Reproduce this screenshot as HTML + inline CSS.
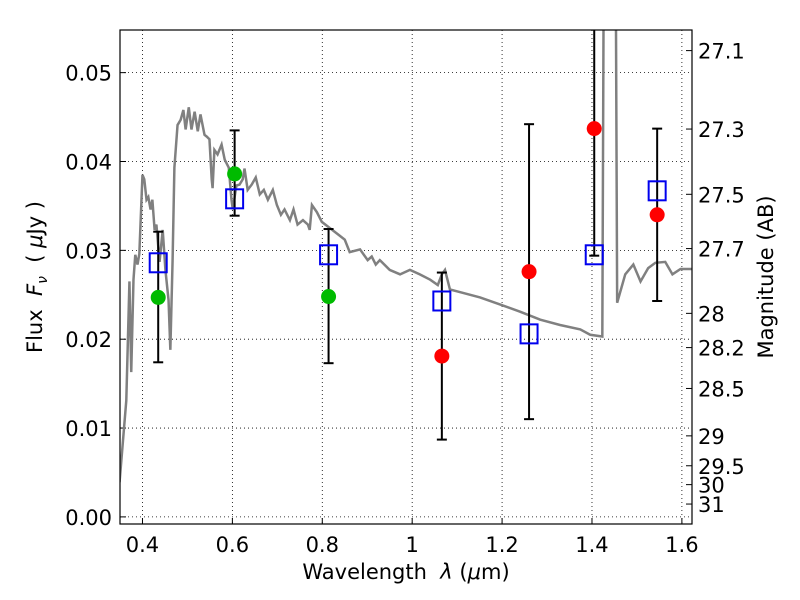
<!DOCTYPE html>
<html><head><meta charset="utf-8"><style>body{margin:0;background:#fff}svg{display:block;font-family:"DejaVu Sans","Liberation Sans",sans-serif}</style></head>
<body>
<svg id="c" width="800" height="600" xmlns="http://www.w3.org/2000/svg"></svg>
<script>
const specLam=[0.349,0.364,0.371,0.375,0.380,0.384,0.389,0.393,0.400,0.404,0.409,0.413,0.418,0.422,0.427,0.431,0.438,0.445,0.451,0.458,0.462,0.467,0.471,0.478,0.485,0.491,0.496,0.503,0.509,0.516,0.523,0.529,0.538,0.543,0.549,0.554,0.556,0.560,0.567,0.576,0.583,0.592,0.598,0.601,0.605,0.609,0.616,0.623,0.627,0.634,0.643,0.652,0.661,0.670,0.679,0.690,0.699,0.708,0.716,0.728,0.736,0.745,0.757,0.768,0.772,0.777,0.788,0.799,0.817,0.835,0.850,0.861,0.884,0.901,0.910,0.919,0.928,0.950,0.973,0.995,1.017,1.040,1.057,1.066,1.073,1.084,1.106,1.151,1.196,1.240,1.285,1.329,1.374,1.396,1.423,1.426,1.453,1.456,1.474,1.492,1.508,1.525,1.541,1.563,1.579,1.597,1.623];
const specFlux=[0.0039,0.0131,0.0265,0.0163,0.0267,0.0295,0.0284,0.0296,0.0385,0.0380,0.0357,0.0360,0.0346,0.0357,0.0323,0.0329,0.0287,0.0323,0.0278,0.0244,0.0188,0.0289,0.0393,0.0441,0.0447,0.0458,0.0436,0.0461,0.0436,0.0456,0.0434,0.0453,0.0430,0.0428,0.0425,0.0380,0.0370,0.0413,0.0408,0.0419,0.0402,0.0393,0.0357,0.0346,0.0360,0.0373,0.0374,0.0380,0.0392,0.0368,0.0374,0.0382,0.0363,0.0368,0.0357,0.0368,0.0351,0.0340,0.0346,0.0334,0.0346,0.0329,0.0334,0.0329,0.0323,0.0351,0.0343,0.0332,0.0325,0.0318,0.0312,0.0298,0.0301,0.0289,0.0293,0.0284,0.0289,0.0278,0.0273,0.0278,0.0273,0.0267,0.0261,0.0273,0.0278,0.0256,0.0253,0.0247,0.0239,0.0231,0.0222,0.0216,0.0211,0.0205,0.0203,0.0600,0.0600,0.0241,0.0273,0.0284,0.0265,0.0280,0.0286,0.0287,0.0273,0.0279,0.0279];
const bandLam=[0.435,0.605,0.814,1.066,1.260,1.405,1.545];
const obsFlux=[0.0247,0.0386,0.0248,0.0181,0.0276,0.0437,0.0340];
const obsColor=["#00bb00","#00bb00","#00bb00","#ff0000","#ff0000","#ff0000","#ff0000"];
const errLo=[0.0174,0.0339,0.0173,0.0087,0.0110,0.0294,0.0243];
const errHi=[0.0321,0.0435,0.0324,0.0275,0.0442,0.0600,0.0437];
const modelFlux=[0.0286,0.0358,0.0295,0.0243,0.0206,0.0295,0.0367];
const xTicks=[0.4,0.6,0.8,1.0,1.2,1.4,1.6];
const xTickLabels=["0.4","0.6","0.8","1","1.2","1.4","1.6"];
const yTicks=[0,0.01,0.02,0.03,0.04,0.05];
const yTickLabels=["0.00","0.01","0.02","0.03","0.04","0.05"];
const magTicks=[27.1,27.3,27.5,27.7,28,28.2,28.5,29,29.5,30,31];

const L=120,R=692,T=30,B=524,X0=0.35,X1=1.6225,Y0=-0.0008,Y1=0.0548;
const xs=v=>L+(v-X0)/(X1-X0)*(R-L);
const ys=v=>B-(v-Y0)/(Y1-Y0)*(B-T);
const NS="http://www.w3.org/2000/svg",svg=document.getElementById('c');
function mk(t,a,p){const e=document.createElementNS(NS,t);for(const k in a)e.setAttribute(k,a[k]);(p||svg).appendChild(e);return e;}
const defs=mk('defs',{});const cp=mk('clipPath',{id:'cl'},defs);mk('rect',{x:L,y:T,width:R-L,height:B-T},cp);
xTicks.forEach((v,i)=>{const g=mk('line',{x1:xs(v),x2:xs(v),y1:T,y2:B,stroke:'#000','stroke-width':0.8,'stroke-dasharray':'1,3'});

const tk=mk('line',{x1:xs(v),x2:xs(v),y1:B,y2:B-6,stroke:'#000'});
const t=mk('text',{x:xs(v),y:B+28,'font-size':21,'text-anchor':'middle'});t.textContent=xTickLabels[i];
});
yTicks.forEach((v,i)=>{const g=mk('line',{x1:L,x2:R,y1:ys(v),y2:ys(v),stroke:'#000','stroke-width':0.8,'stroke-dasharray':'1,3'});

const tk=mk('line',{x1:L,x2:L+6,y1:ys(v),y2:ys(v),stroke:'#000'});
const t=mk('text',{x:L-8,y:ys(v)+8,'font-size':21,'text-anchor':'end'});t.textContent=yTickLabels[i];
});
magTicks.forEach(m=>{const f=Math.pow(10,(23.9-m)/2.5);const y=ys(f);
const tk=mk('line',{x1:R,x2:R-6,y1:y,y2:y,stroke:'#000'});
const t=mk('text',{x:R+6,y:y+8,'font-size':21});t.textContent=String(m);
});
const sp=mk('polyline',{points:specLam.map((l,i)=>xs(l)+','+ys(specFlux[i])).join(' '),fill:'none',stroke:'#808080','stroke-width':2.5,'clip-path':'url(#cl)'});

bandLam.forEach((l,i)=>{const x=xs(l);
const eb=mk('g',{'clip-path':'url(#cl)',stroke:'#000','stroke-width':2});

mk('line',{x1:x,x2:x,y1:ys(errLo[i]),y2:ys(errHi[i])},eb);
mk('line',{x1:x-5,x2:x+5,y1:ys(errLo[i]),y2:ys(errLo[i])},eb);
mk('line',{x1:x-5,x2:x+5,y1:ys(errHi[i]),y2:ys(errHi[i])},eb);
const c=mk('circle',{cx:x,cy:ys(obsFlux[i]),r:7.5,fill:obsColor[i]});

const s=mk('rect',{x:x-8.5,y:ys(modelFlux[i])-9.5,width:17,height:19,fill:'none',stroke:'#0000ee','stroke-width':2});
});
const fr=mk('rect',{x:L,y:T,width:R-L,height:B-T,fill:'none',stroke:'#000','stroke-width':1.2});

</script>
<div style="position:absolute;left:0;top:0;width:800px;height:600px;pointer-events:none;font-family:'DejaVu Sans','Liberation Sans',sans-serif">
<div style="position:absolute;left:0;width:812px;top:560px;text-align:center;font-size:21px">Wavelength&nbsp; <i>λ</i> (<i>μ</i>m)</div>
<div style="position:absolute;left:37px;top:277px;transform:translate(-50%,-50%) rotate(-90deg);white-space:nowrap;font-size:21px">Flux&nbsp; <i>F<sub style="font-size:14px">ν</sub></i>&nbsp; (&nbsp;<i>μ</i>Jy )</div>
<div style="position:absolute;left:766px;top:277px;transform:translate(-50%,-50%) rotate(-90deg);white-space:nowrap;font-size:21px">Magnitude (AB)</div>
</div>
</body></html>
